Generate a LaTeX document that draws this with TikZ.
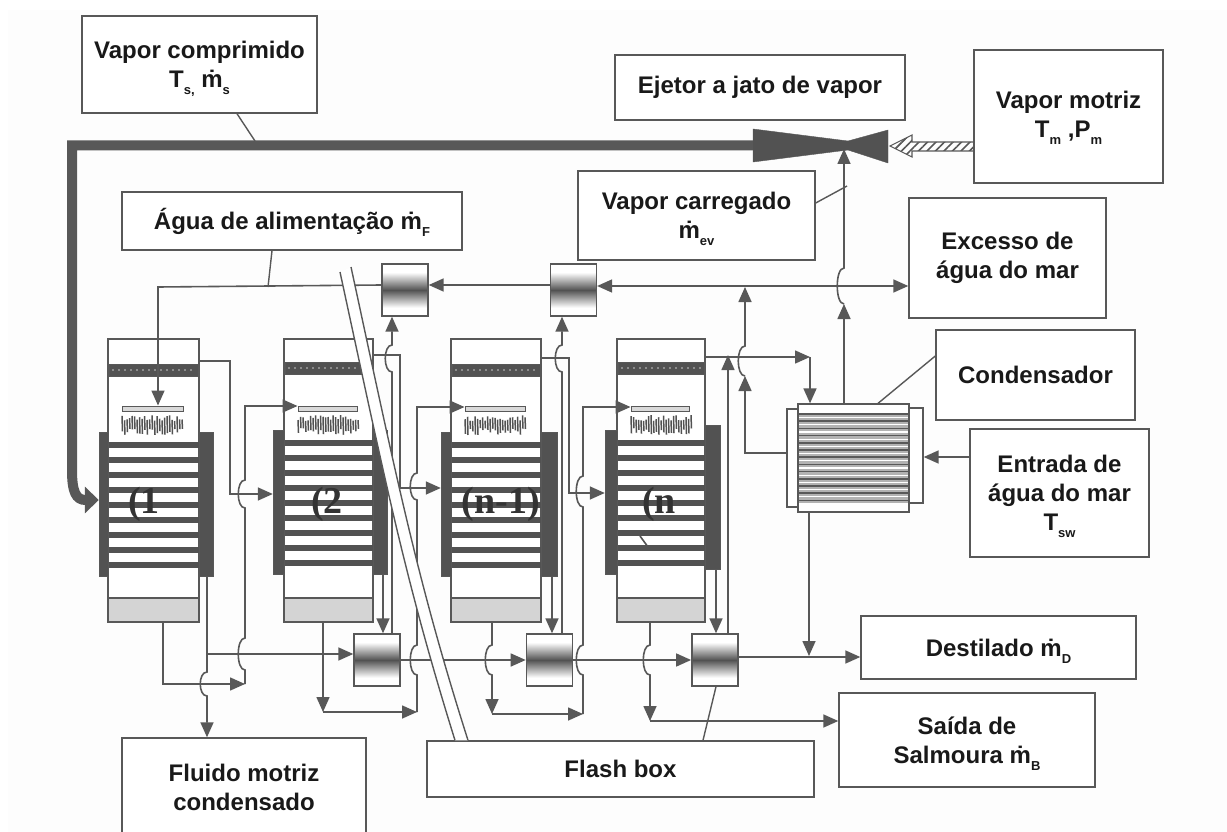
\documentclass[tikz,border=0pt]{standalone}
\usepackage{fontspec}
\setmainfont{Liberation Sans}
\newfontfamily\stagefont{Liberation Serif}
\usepackage{xcolor}
\usepackage{tikz}
\usetikzlibrary{arrows.meta,positioning,fit,patterns.meta}
\definecolor{linegray}{RGB}{88, 88, 88}
\definecolor{darkfill}{RGB}{82, 82, 82}
\definecolor{pagegray}{RGB}{253, 253, 253}
\definecolor{basingray}{RGB}{212, 212, 212}
\pgfdeclareverticalshading{exshade}{100bp}{color(0bp)=(white); color(33bp)=(white); color(50bp)=(darkfill); color(67bp)=(white); color(100bp)=(white)}
\newcommand{\hop}[3]{-- (#1,#2) .. controls ({#1-9},#2) and ({#1-9},#3) .. (#1,#3)}
\newcommand{\subt}[1]{\raisebox{-7pt}[0pt][0pt]{\fontsize{13}{13}\selectfont #1}}
\newcommand{\mdot}{\.m}
\tikzset{
  labelbox/.style={draw=linegray, line width=1.4pt, fill=white, inner sep=0pt, align=center, text=black!90,
    font=\bfseries\fontsize{24}{29}\selectfont},
  stagebody/.style={draw=linegray, line width=1.3pt, fill=white, inner sep=0pt},
  plate/.style={draw=linegray, fill=darkfill, inner sep=0pt},
  exbox/.style={draw=linegray, line width=1.4pt, shading=exshade, inner sep=0pt, minimum width=46pt, minimum height=52pt},
  pipe/.style={draw=linegray, line width=1.6pt},
  leader/.style={draw=linegray, line width=1.4pt},
  spray/.style={draw=darkfill, line width=1.5pt},
}
\begin{document}
\begin{tikzpicture}[x=1pt, y=-1pt, >={Triangle[length=15pt, width=13pt]}]
        \useasboundingbox (0,0) rectangle (1227,832);
        \fill[white] (0,0) rectangle (1227,832);
        \fill[pagegray] (8,10) rectangle (1227,832);
        \pgfmathsetseed{7}

        % Labels
        \node[labelbox, minimum width=235pt, minimum height=97pt] (comprimido) at (199.5,64.5) {Vapor comprimido\\T\subt{s,} \mdot\subt{s}};
        \node[labelbox, minimum width=290pt, minimum height=65pt] (ejetor) at (760,87.5) {Ejetor a jato de vapor};
        \node[labelbox, minimum width=189pt, minimum height=133pt] (motriz) at (1068.5,116.5) {Vapor motriz\\T\subt{m} ,P\subt{m}};
        \node[labelbox, minimum width=340pt, minimum height=58pt] (agua) at (292,221) {\raisebox{-3pt}{Água de alimentação \mdot\subt{F}}};
        \node[labelbox, minimum width=237pt, minimum height=89pt] (carregado) at (696.5,215.5) {Vapor carregado\\\mdot\subt{ev}};
        \node[labelbox, minimum width=197pt, minimum height=120pt] (excesso) at (1007.5,258) {Excesso de\\água do mar};
        \node[labelbox, minimum width=199pt, minimum height=90pt] (condensador) at (1035.5,375) {Condensador};
        \node[labelbox, minimum width=179pt, minimum height=128pt] (entrada) at (1059.5,493) {Entrada de\\água do mar\\T\subt{sw}};
        \node[labelbox, minimum width=275pt, minimum height=63pt] (destilado) at (998.5,647.5) {Destilado \mdot\subt{D}};
        \node[labelbox, minimum width=256pt, minimum height=94pt] (saida) at (967,740) {Saída de\\Salmoura \mdot\subt{B}};
        \node[labelbox, minimum width=387pt, minimum height=56pt] (flash) at (620.5,769) {Flash box};
        \node[labelbox, minimum width=244pt, minimum height=98pt] (fluido) at (244,787) {Fluido motriz\\condensado};

        % Stages
        \foreach \n/\xl/\xr/\pl/\pr/\dy/\rt/\lx/\lab in {
            1/108/199/99/213/0/432/144/{(1},
            2/284/373/273/387/-2/430/327/{(2},
            3/451/541/441/557/0/432/501/{(n-1)},
            4/617/705/605/720/-2/425/659/{(n}} {
          \node[stagebody, fit={(\xl,339) (\xr,598)}] (st\n) {};
          \node[stagebody, fill=basingray, fit={(\xl,598) (\xr,622)}] (ba\n) {};
          \node[plate, fit={(\xl+1,364+\dy) (\xr-1,376+\dy)}] (de\n) {};
          \draw[black!45, line width=2pt, dash pattern=on 2pt off 4pt] (\xl+4,370+\dy) -- (\xr-4,370+\dy);
          \foreach \k in {0,...,8}
            \fill[darkfill] (\xl,442+\dy+15*\k) rectangle (\xr,448+\dy+15*\k);
          \node[plate, fit={(\pl,432+\dy) (\xl,576+\dy)}] (pl\n) {};
          \node[plate, fit={(\xr,\rt) (\pr,\rt+144)}] (pr\n) {};
          \node[stagebody, line width=1pt, fill=black!15, fit={(\xl+14,406) (\xr-16,411)}] (bar\n) {};
          \foreach \s in {0,2.5,...,60}
            \draw[spray] (\xl+14+\s,{415+6*rnd}) -- (\xl+14.5+\s,{428+7*rnd});
          \node[font=\stagefont\bfseries\fontsize{38}{38}\selectfont, text=black!80, inner sep=0pt] (lab\n) at (\lx,504) {\lab};
        }
        \draw[darkfill, line width=1.6pt] (640,536) -- (648,547);

        % Heat exchangers
        \node[exbox] (ex1) at (377,660) {};
        \node[exbox, right=125pt of ex1] (ex2) {};
        \node[exbox, right=118pt of ex2] (ex3) {};
        \node[exbox] (exA) at (405,290) {};
        \node[exbox, right=121pt of exA] (exB) {};

        % Condenser
        \node[stagebody, fit={(787,409) (798,507)}] (condl) {};
        \node[stagebody, fit={(909,408) (923,503)}] (condr) {};
        \node[stagebody, fit={(798,404) (909,512)}] (cond) {};
        \fill[black!30] (799,413) rectangle (908,503);
        \foreach \k in {0,...,12} {
          \draw[linegray, line width=1.5pt] (799,414+7.2*\k) -- (908,414+7.2*\k);
          \draw[white, line width=1.2pt] (799,417.6+7.2*\k) -- (908,417.6+7.2*\k);
        }

        % Brine and vapour lines
        \draw[pipe,->] (st1.east |- 0,361) -- (230,361) -- (230,494) -- (pl2.west |- 0,494);
        \draw[pipe,->] (163,0 |- ba1.south) -- (163,684) -- (245,684);
        \draw[pipe,->] (245,684) \hop{245}{670}{638} \hop{245}{508}{480} -- (245,406) -- (bar2.west |- 0,406);
        \draw[pipe,->] (207,0 |- pr1.south) \hop{207}{672}{696} -- (207,0 |- fluido.north);
        \draw[pipe,->] (207,654) -- (ex1.west |- 0,654);
        \draw[pipe,->] (323,0 |- ba2.south) -- (323,712);
        \draw[pipe,->] (323,712) -- (417,712);
        \draw[pipe,->] (417,712) \hop{417}{675}{645} \hop{417}{500}{473} -- (417,407) -- (bar3.west |- 0,407);
        \draw[pipe,->] (383,0 |- pr2.south) -- (383,0 |- ex1.north);
        \draw[pipe,->] (392,0 |- ex1.north) \hop{392}{372}{345} -- (392,0 |- exA.south);
        \draw[pipe,->] (st2.east |- 0,355) -- (400,355) -- (400,488) -- (pl3.west |- 0,488);
        \draw[pipe,->] (ex1.east) -- (ex1.east -| ex2.west);
        \draw[pipe,->] (492,0 |- ba3.south) \hop{492}{645}{675} -- (492,714);
        \draw[pipe,->] (492,714) -- (583,714);
        \draw[pipe,->] (583,714) \hop{583}{675}{645} \hop{583}{507}{476} -- (583,407) -- (bar4.west |- 0,407);
        \draw[pipe,->] (552,0 |- pr3.south) -- (552,0 |- ex2.north);
        \draw[pipe,->] (562,0 |- ex2.north) \hop{562}{372}{345} -- (562,0 |- exB.south);
        \draw[pipe,->] (st3.east |- 0,358) -- (569,358) -- (569,493) -- (pl4.west |- 0,493);
        \draw[pipe,->] (ex2.east) -- (ex2.east -| ex3.west);
        \draw[pipe,->] (650,0 |- ba4.south) \hop{650}{645}{675} -- (650,721);
        \draw[pipe,->] (650,721) -- (saida.west |- 0,721);
        \draw[pipe,->] (716,0 |- pr4.south) -- (716,0 |- ex3.north);
        \draw[pipe,->] (728,0 |- ex3.north) -- (728,355);
        \draw[pipe,->] (ex3.east |- 0,657) -- (destilado.west |- 0,657);

        % Condenser lines
        \draw[pipe,->] (809,0 |- cond.south) -- (809,656);
        \draw[pipe,->] (st4.east |- 0,357) -- (810,357);
        \draw[pipe,->] (810,357) -- (810,0 |- cond.north);
        \draw[pipe,->] (condl.west |- 0,453) -- (745,453) -- (745,376);
        \draw[pipe,->] (745,376) \hop{745}{376}{346} -- (745,287);
        \draw[pipe,->] (844,0 |- cond.north) -- (844,304);
        \draw[pipe,->] (844,304) \hop{844}{304}{268} -- (844,149);
        \draw[pipe,->] (entrada.west |- 0,457) -- (condr.east |- 0,457);

        % Sea water
        \draw[pipe,<->] (exB.east |- 0,286) -- (excesso.west |- 0,286);
        \draw[pipe,->] (exB.west |- 0,285) -- (exA.east |- 0,285);
        \draw[pipe,->] (exA.west |- 0,285) -- (158,287) -- (158,0 |- bar1.north);

        % Double wall
        \coordinate (wallb) at (455,0 |- flash.north);
        \coordinate (wallc) at (468,0 |- flash.north);
        \fill[white] (340,272) .. controls (385,480) and (405,580) .. (wallb) -- (wallc) .. controls (417,580) and (397,480) .. (351,267) -- cycle;
        \draw[leader] (340,272) .. controls (385,480) and (405,580) .. (wallb);
        \draw[leader] (351,267) .. controls (397,480) and (417,580) .. (wallc);

        % Leaders
        \draw[leader] (237,0 |- comprimido.south) -- (255,141);
        \draw[leader] (272,0 |- agua.south) -- (268,287);
        \draw[leader] (carregado.east |- 0,203) -- (847,186);
        \draw[leader] (condensador.west |- 0,356) -- (878,0 |- cond.north);
        \draw[leader] (703,0 |- flash.north) -- (716,0 |- ex3.south);

        % Ejector
        \coordinate (ejin) at (753,145.5);
        \draw[linegray, fill=darkfill, line join=round] (753,129) -- (848,141) -- (888,130) -- (888,163) -- (848,150) -- (753,162) -- cycle;
        \draw[linegray, line width=10pt, -{Triangle[length=14pt, width=26pt]}] (ejin) -- (72,145.5) -- (72,470)
            .. controls (72,492) and (76,500) .. (pl1.west |- 0,500);
        \draw[linegray, line width=1.1pt, fill=white, pattern={Lines[angle=45, distance=6pt, line width=1.6pt]}, pattern color=linegray] (motriz.west |- 0,142) -- (912,142) -- (912,135) -- (890,146) -- (912,157) -- (912,151) -- (motriz.west |- 0,151);
    \end{tikzpicture}
\end{document}
